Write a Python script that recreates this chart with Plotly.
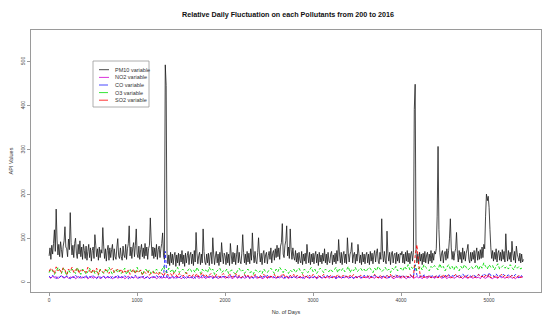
import plotly.graph_objects as go

# ---------------- data ----------------
pm10_days = list(range(1, 5392, 10))
pm10 = [
    60, 78, 52, 84, 64, 88, 119, 70, 166, 96, 62, 86, 58, 92, 74, 56, 82, 94, 126, 80,
    76, 58, 98, 74, 158, 90, 62, 84, 56, 88, 100, 66, 54, 86, 64, 94, 58, 80, 52, 86,
    72, 54, 82, 50, 70, 86, 56, 78, 48, 72, 80, 54, 108, 84, 58, 76, 50, 80, 56, 74,
    66, 124, 82, 54, 76, 48, 72, 84, 50, 78, 56, 74, 86, 50, 76, 58, 52, 80, 99, 60,
    54, 78, 58, 50, 82, 62, 56, 86, 52, 76, 88, 128, 60, 80, 54, 78, 90, 58, 84, 121,
    64, 56, 82, 52, 74, 86, 58, 78, 54, 88, 60, 80, 52, 76, 84, 146, 94, 60, 80, 54,
    78, 58, 86, 52, 74, 82, 56, 76, 88, 112, 60, 52, 493, 446, 66, 42, 62, 38, 68, 44,
    64, 40, 60, 68, 36, 62, 44, 66, 38, 64, 46, 72, 42, 62, 36, 66, 44, 60, 70, 40,
    62, 68, 42, 64, 38, 72, 46, 113, 66, 42, 60, 68, 40, 64, 44, 121, 70, 46, 40, 64,
    44, 66, 38, 62, 68, 42, 101, 64, 40, 60, 70, 44, 64, 38, 68, 46, 90, 62, 42, 66,
    60, 40, 68, 44, 64, 38, 88, 62, 42, 68, 46, 66, 40, 62, 84, 44, 68, 48, 42, 66,
    108, 68, 44, 64, 40, 70, 46, 66, 42, 76, 50, 112, 64, 44, 70, 48, 42, 68, 101, 64,
    46, 66, 40, 64, 72, 44, 62, 68, 42, 60, 70, 52, 78, 44, 66, 72, 50, 76, 56, 84,
    58, 78, 52, 82, 90, 133, 64, 56, 84, 94, 128, 60, 80, 54, 121, 74, 52, 78, 58, 50,
    72, 46, 66, 42, 68, 50, 44, 70, 40, 64, 48, 66, 42, 86, 62, 44, 68, 40, 64, 46,
    66, 42, 62, 70, 44, 64, 38, 68, 46, 62, 42, 66, 48, 76, 44, 64, 40, 68, 48, 44,
    64, 70, 40, 62, 46, 66, 42, 72, 48, 97, 64, 44, 68, 40, 62, 70, 44, 64, 42, 101,
    66, 46, 64, 70, 90, 44, 62, 68, 42, 64, 48, 86, 66, 44, 62, 40, 68, 46, 64, 42,
    62, 68, 44, 64, 40, 70, 48, 66, 42, 62, 72, 46, 66, 76, 48, 42, 68, 52, 144, 66,
    46, 70, 50, 42, 116, 66, 48, 68, 40, 64, 70, 44, 62, 66, 42, 68, 48, 64, 44, 66,
    62, 70, 44, 64, 42, 68, 48, 72, 46, 66, 42, 64, 70, 48, 68, 392, 449, 66, 44, 64,
    42, 68, 48, 64, 40, 66, 46, 70, 44, 62, 68, 42, 64, 48, 72, 44, 66, 50, 70, 64,
    76, 150, 308, 120, 68, 48, 66, 72, 44, 64, 70, 50, 76, 54, 72, 100, 144, 78, 52, 70,
    50, 68, 76, 113, 66, 46, 72, 52, 68, 44, 78, 52, 70, 48, 66, 74, 86, 52, 44, 68,
    48, 68, 52, 72, 44, 66, 78, 50, 70, 52, 74, 54, 80, 56, 86, 76, 150, 200, 185, 195,
    170, 120, 78, 54, 72, 48, 68, 52, 76, 46, 66, 72, 50, 68, 48, 74, 52, 70, 46, 110,
    66, 48, 72, 52, 68, 46, 93, 66, 50, 70, 44, 82, 64, 56, 48, 66, 44, 64, 46, 52,
]

minor_days = list(range(1, 5382, 20))
no2 = [
    12, 9, 14, 10, 13, 8, 12, 15, 10, 11, 13, 9, 12, 10, 14, 8, 11, 13, 9, 12,
    10, 13, 8, 11, 14, 9, 12, 10, 13, 8, 11, 14, 9, 12, 10, 13, 8, 11, 14, 9,
    12, 10, 13, 8, 11, 14, 9, 12, 10, 13, 9, 12, 10, 14, 8, 11, 13, 9, 12, 10,
    13, 8, 11, 14, 9, 12, 10, 13, 8, 11, 12, 9, 14, 10, 12, 8, 11, 13, 9, 12,
    10, 13, 8, 12, 14, 9, 11, 10, 13, 8, 12, 10, 14, 9, 11, 13, 8, 12, 10, 14,
    9, 12, 10, 13, 8, 11, 14, 9, 12, 10, 13, 9, 11, 14, 8, 12, 10, 13, 9, 11,
    12, 8, 10, 13, 9, 12, 14, 10, 11, 9, 12, 10, 13, 9, 11, 14, 8, 12, 10, 13,
    11, 9, 13, 10, 12, 8, 14, 11, 9, 12, 10, 13, 8, 11, 14, 9, 12, 10, 13, 9,
    12, 10, 14, 8, 11, 13, 9, 12, 10, 14, 9, 11, 13, 8, 12, 10, 14, 9, 11, 13,
    10, 12, 8, 13, 11, 9, 14, 10, 12, 8, 13, 11, 9, 12, 14, 10, 8, 12, 11, 13,
    9, 13, 11, 8, 12, 10, 14, 9, 11, 13, 10, 12, 8, 14, 11, 9, 13, 10, 12, 9,
    12, 10, 13, 9, 11, 14, 8, 12, 10, 13, 9, 11, 14, 10, 12, 8, 13, 11, 9, 12,
    11, 9, 13, 10, 12, 8, 14, 11, 9, 12, 13, 10, 8, 12, 11, 9, 14, 10, 12, 9,
    12, 10, 13, 9, 11, 8, 12, 10, 13, 11,
]
co = [
    14, 10, 16, 12, 8, 14, 11, 16, 12, 9, 15, 11, 8, 14, 10, 16, 12, 9, 14, 10,
    12, 16, 9, 13, 10, 15, 11, 8, 14, 12, 10, 14, 9, 13, 12, 8, 14, 10, 12, 16,
    9, 13, 10, 15, 11, 8, 14, 12, 10, 16, 12, 9, 14, 11, 15, 10, 13, 8, 12, 14,
    10, 15, 12, 9, 14, 11, 70, 10, 13, 9, 14, 11, 8, 13, 10, 15, 12, 9, 14, 11,
    13, 10, 15, 9, 12, 14, 10, 16, 11, 13, 10, 14, 12, 9, 15, 11, 13, 10, 16, 12,
    14, 10, 13, 16, 11, 12, 15, 10, 14, 9, 12, 16, 11, 14, 10, 13, 9, 15, 12, 10,
    13, 9, 14, 11, 16, 10, 12, 15, 11, 13, 10, 14, 12, 16, 9, 13, 11, 15, 10, 14,
    11, 15, 10, 13, 9, 14, 12, 16, 10, 13, 11, 14, 9, 15, 12, 10, 14, 11, 16, 12,
    10, 14, 12, 9, 15, 11, 13, 10, 16, 12, 14, 10, 13, 9, 15, 11, 14, 12, 10, 16,
    12, 15, 10, 14, 11, 16, 13, 10, 15, 12, 14, 11, 16, 10, 13, 15, 12, 17, 11, 14,
    13, 16, 12, 15, 11, 17, 14, 12, 40, 16, 13, 15, 11, 17, 14, 12, 16, 13, 15, 11,
    15, 12, 17, 14, 11, 16, 13, 18, 12, 15, 14, 17, 12, 16, 13, 19, 14, 12, 17, 15,
    13, 17, 14, 12, 18, 15, 13, 20, 16, 12, 22, 15, 17, 13, 19, 14, 16, 12, 18, 15,
    14, 17, 12, 16, 13, 18, 14, 11, 16, 13,
]
o3 = [
    22, 30, 26, 18, 24, 34, 28, 20, 32, 24, 16, 28, 22, 30, 26, 20, 34, 24, 18, 30,
    26, 18, 24, 32, 22, 28, 20, 26, 16, 30, 24, 20, 28, 22, 34, 26, 18, 24, 30, 22,
    28, 20, 26, 32, 18, 24, 30, 22, 26, 20, 34, 24, 28, 16, 26, 30, 22, 28, 20, 26,
    22, 30, 24, 20, 28, 36, 26, 22, 32, 24, 30, 20, 28, 34, 22, 26, 30, 24, 20, 28,
    32, 24, 28, 22, 34, 26, 20, 30, 24, 28, 22, 34, 26, 30, 18, 24, 28, 32, 22, 26,
    24, 30, 20, 26, 28, 22, 18, 26, 32, 24, 28, 20, 26, 30, 22, 24, 18, 28, 26, 22,
    26, 20, 30, 24, 22, 28, 32, 26, 20, 30, 24, 34, 28, 22, 30, 26, 20, 28, 24, 30,
    22, 28, 32, 24, 20, 30, 26, 22, 28, 34, 24, 30, 20, 26, 32, 28, 22, 30, 26, 24,
    30, 24, 28, 34, 22, 30, 26, 32, 24, 28, 36, 22, 30, 26, 34, 24, 28, 32, 26, 30,
    24, 30, 34, 28, 22, 32, 26, 36, 30, 24, 28, 34, 26, 30, 22, 32, 28, 36, 26, 30,
    32, 26, 36, 30, 40, 28, 34, 30, 38, 26, 32, 36, 28, 40, 34, 30, 26, 36, 32, 38,
    34, 28, 42, 32, 36, 26, 34, 40, 30, 36, 28, 38, 32, 26, 36, 30, 40, 34, 28, 32,
    36, 30, 34, 40, 28, 38, 32, 44, 36, 30, 40, 34, 38, 28, 36, 42, 30, 34, 38, 32,
    36, 30, 40, 34, 28, 38, 32, 36, 30, 34,
]
so2 = [
    25, 32, 28, 20, 35, 26, 30, 22, 33, 28, 18, 30, 26, 34, 22, 28, 32, 20, 30, 26,
    28, 22, 34, 26, 20, 30, 24, 32, 18, 28, 26, 22, 30, 24, 20, 28, 32, 22, 26, 30,
    24, 30, 20, 26, 22, 28, 18, 24, 30, 20, 26, 22, 28, 18, 24, 20, 26, 16, 22, 24,
    18, 22, 16, 24, 20, 14, 22, 18, 16, 20, 14, 22, 18, 12, 20, 16, 14, 18, 22, 14,
    16, 12, 18, 14, 20, 12, 16, 22, 14, 18, 12, 16, 20, 14, 10, 18, 14, 12, 16, 20,
    14, 10, 16, 18, 12, 14, 20, 12, 16, 10, 14, 18, 12, 16, 10, 14, 12, 18, 14, 10,
    16, 12, 18, 14, 10, 16, 12, 14, 18, 10, 14, 12, 16, 20, 12, 14, 10, 16, 12, 18,
    12, 16, 10, 14, 18, 12, 14, 10, 16, 12, 18, 14, 10, 16, 12, 14, 18, 10, 14, 12,
    16, 10, 14, 12, 18, 14, 10, 16, 12, 14, 10, 16, 12, 18, 14, 10, 12, 16, 14, 10,
    14, 12, 16, 10, 14, 18, 12, 10, 16, 12, 14, 10, 16, 12, 18, 10, 14, 12, 16, 10,
    12, 16, 10, 14, 12, 18, 14, 10, 60, 85, 40, 12, 16, 10, 14, 12, 16, 10, 14, 12,
    16, 10, 14, 12, 18, 10, 14, 16, 12, 10, 14, 18, 12, 16, 10, 14, 12, 16, 10, 14,
    12, 16, 10, 14, 18, 12, 14, 10, 16, 12, 18, 10, 14, 12, 16, 10, 14, 18, 12, 16,
    10, 14, 12, 16, 10, 14, 12, 16, 10, 14,
]

series_names = ["PM10 variable", "NO2 variable", "CO variable", "O3 variable", "SO2 variable"]
series_colors = ["#1a1a1a", "#d000d0", "#1a1aff", "#00dd00", "#ff0000"]
series_dash = ["solid", "solid", "3px,2px", "3px,2px", "3px,2px"]

x_ticks = [0, 1000, 2000, 3000, 4000, 5000]
y_ticks = [0, 100, 200, 300, 400, 500]

# ---------------- figure ----------------
W, H = 550, 330
L, R, T, B = 31, 9, 30, 38
pw, ph = W - L - R, H - T - B


def px_x(p):
    return (p - L) / pw


def px_y(p):
    return (H - B - p) / ph


fig = go.Figure()
all_x = [pm10_days, minor_days, minor_days, minor_days, minor_days]
all_y = [pm10, no2, co, o3, so2]
widths = [0.8, 0.9, 0.9, 0.9, 0.9]
for xs, ys, name, col, dash, wd in zip(all_x, all_y, series_names, series_colors, series_dash, widths):
    fig.add_trace(go.Scatter(x=xs, y=ys, mode="lines", name=name,
                             line=dict(color=col, width=wd, dash=dash, simplify=False),
                             showlegend=False, hoverinfo="skip"))

font = "Liberation Sans, Arial, sans-serif"
fig.update_layout(
    template="none",
    width=W, height=H,
    margin=dict(l=L, r=R, t=T, b=B, pad=0),
    paper_bgcolor="white", plot_bgcolor="white",
    font=dict(family=font, color="#333333", size=5),
    showlegend=False,
    title=dict(text="<b>Relative Daily Fluctuation on each Pollutants from 200 to 2016</b>",
               x=288 / W, xanchor="center", xref="container",
               y=1 - 14 / H, yanchor="middle", yref="container",
               font=dict(size=7.2, color="#111111", family=font)),
    xaxis=dict(range=[-205, 5591], tickvals=x_ticks, ticktext=[str(v) for v in x_ticks],
               showgrid=False, zeroline=False, showline=True, mirror=True, automargin=False,
               linecolor="#9a9a9a", linewidth=1, ticks="outside", ticklen=3,
               tickcolor="#9a9a9a", tickfont=dict(size=5, color="#444444"),
               title=dict(text="No. of Days", font=dict(size=5.5, color="#333333"), standoff=8)),
    yaxis=dict(range=[-22, 572], tickvals=y_ticks, ticktext=[str(v) for v in y_ticks],
               showgrid=False, zeroline=False, showline=True, mirror=True, automargin=False,
               linecolor="#9a9a9a", linewidth=1, ticks="outside", ticklen=3,
               tickcolor="#9a9a9a", tickangle=-90, tickfont=dict(size=5, color="#444444"),
               title=dict(text="API Values", font=dict(size=5.5, color="#333333"), standoff=6)),
)

# ---------------- manual legend (R-style box) ----------------
fig.add_shape(type="rect", xref="paper", yref="paper",
              x0=px_x(93), x1=px_x(149), y0=px_y(107), y1=px_y(61),
              line=dict(color="#999999", width=0.8), fillcolor="white")
leg_y = [69.7, 77.4, 85.0, 92.6, 100.2]
for yy, name, col, dash in zip(leg_y, series_names, series_colors, series_dash):
    fig.add_shape(type="line", xref="paper", yref="paper",
                  x0=px_x(99), x1=px_x(109), y0=px_y(yy), y1=px_y(yy),
                  line=dict(color=col, width=0.8, dash="dash" if dash != "solid" else "solid"))
    fig.add_annotation(text=name, xref="paper", yref="paper",
                       x=px_x(112.5), y=px_y(yy), xanchor="left", yanchor="middle",
                       showarrow=False, font=dict(size=5.5, color="#333333", family=font))

fig.write_html("out.html",
               config={"displayModeBar": False, "staticPlot": True},
               post_script="document.body.style.margin='0px';document.body.style.overflow='hidden';")
